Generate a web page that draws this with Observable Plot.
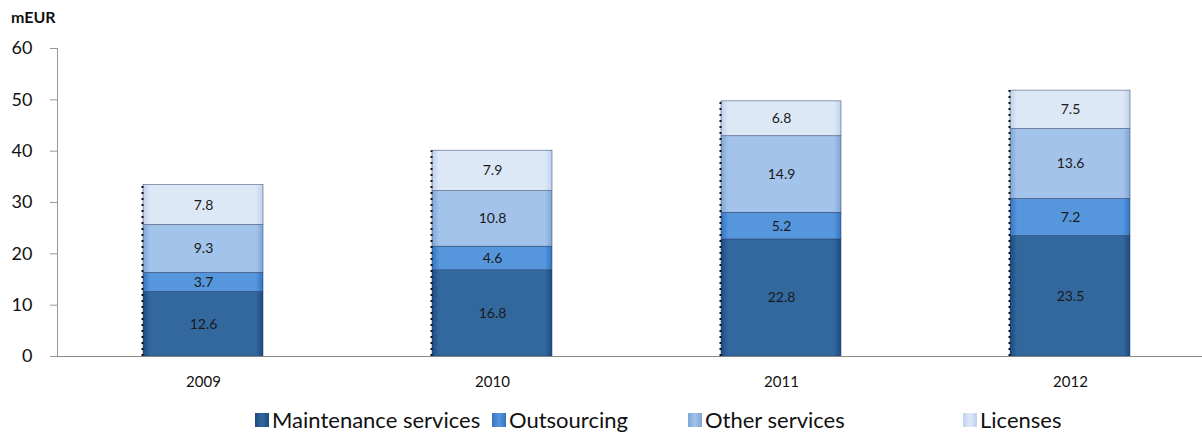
<!DOCTYPE html>
<html>
<head>
<meta charset="utf-8">
<script src="https://cdn.jsdelivr.net/npm/d3@7"></script>
<script src="https://cdn.jsdelivr.net/npm/@observablehq/plot@0.6"></script>
<style>
  body { margin:0; background:#fff; font-family: Lato, "Open Sans", sans-serif; }
  #wrap { position:relative; width:1202px; height:435px; overflow:hidden; }
  #unit { position:absolute; left:11px; top:7px; font-weight:bold; font-size:16px; color:#111; }
  .leg { position:absolute; top:408px; height:24px; line-height:24px; font-size:22px; color:#111; white-space:nowrap; display:flex; align-items:center; }
  .sw { display:inline-block; width:14px; height:14px; margin-right:3px; }
</style>
</head>
<body>
<div id="wrap">
  <div id="chart"></div>
  <div id="unit">mEUR</div>
</div>
<script>
const years = ["2009", "2010", "2011", "2012"];
const series = ["Maintenance services", "Outsourcing", "Other services", "Licenses"];
const maintenance = [12.6, 16.8, 22.8, 23.5];
const outsourcing = [3.7, 4.6, 5.2, 7.2];
const otherServices = [9.3, 10.8, 14.9, 13.6];
const licenses = [7.8, 7.9, 6.8, 7.5];
const yTicks = [0, 10, 20, 30, 40, 50, 60];

const colors = {
  "Maintenance services": ["#1d4a80", "#33689f"],
  "Outsourcing": ["#3573c0", "#5596dc"],
  "Other services": ["#7fa6d6", "#a3c3ea"],
  "Licenses": ["#bfd2ec", "#dde8f7"]
};
const gid = s => "g" + series.indexOf(s);

const valuesBySeries = [maintenance, outsourcing, otherServices, licenses];
const data = [];
years.forEach((y, i) => series.forEach((s, j) => data.push({year: y, series: s, value: valuesBySeries[j][i]})));
const totals = years.map((y, i) => ({year: y, total: d3.sum(valuesBySeries, v => v[i])}));

const chart = Plot.plot({
  width: 1202, height: 395,
  marginTop: 48, marginBottom: 39, marginLeft: 57, marginRight: 0,
  style: {fontFamily: "Lato, 'Open Sans', sans-serif", background: "#fff"},
  x: {domain: years, range: [58, 1214], paddingInner: 0.585, paddingOuter: 0.2925},
  y: {domain: [0, 60]},
  color: {domain: series, range: series.map(s => `url(#${gid(s)})`)},
  marks: [
    Plot.barY(data, Plot.stackY({x: "year", y: "value", z: "series", fill: "series", order: series, stroke: "#2a3f6a", strokeWidth: 0.5})),
    Plot.text(data, Plot.stackY({x: "year", y: "value", z: "series", order: series, text: d => d.value.toFixed(1), fill: "#1a1a1a", fontSize: 14})),
    Plot.ruleX(totals, {x: "year", y1: 0, y2: "total", dx: -61, stroke: "#111", strokeDasharray: "2,4", strokeWidth: 2}),
    Plot.frame({anchor: "left", stroke: "#999"}),
    Plot.ruleY([0], {stroke: "#888"}),
    Plot.axisY({ticks: yTicks, tickSize: 7, tickPadding: 18, stroke: "#999", fill: "#111", fontSize: 18, label: null}),
    Plot.axisX({tickSize: 0, tickPadding: 20, fontSize: 15, fill: "#111", label: null})
  ]
});

const svg = d3.select(chart);
const defs = svg.insert("defs", ":first-child");
series.forEach(s => {
  const [dark, light] = colors[s];
  const g = defs.append("linearGradient").attr("id", gid(s)).attr("x1", 0).attr("x2", 1).attr("y1", 0).attr("y2", 0);
  g.append("stop").attr("offset", "0%").attr("stop-color", dark);
  g.append("stop").attr("offset", "6%").attr("stop-color", light);
  g.append("stop").attr("offset", "50%").attr("stop-color", light);
  g.append("stop").attr("offset", "94%").attr("stop-color", light);
  g.append("stop").attr("offset", "100%").attr("stop-color", dark);
});
document.getElementById("chart").appendChild(chart);

const legendPos = [255, 492, 688, 963];
const wrap = document.getElementById("wrap");
series.forEach((s, i) => {
  const d = document.createElement("div");
  d.className = "leg";
  d.style.left = legendPos[i] + "px";
  const sw = document.createElement("span");
  sw.className = "sw";
  sw.style.background = `linear-gradient(90deg, ${colors[s][0]}, ${colors[s][1]}, ${colors[s][0]})`;
  d.appendChild(sw);
  d.appendChild(document.createTextNode(s));
  wrap.appendChild(d);
});
</script>
</body>
</html>
